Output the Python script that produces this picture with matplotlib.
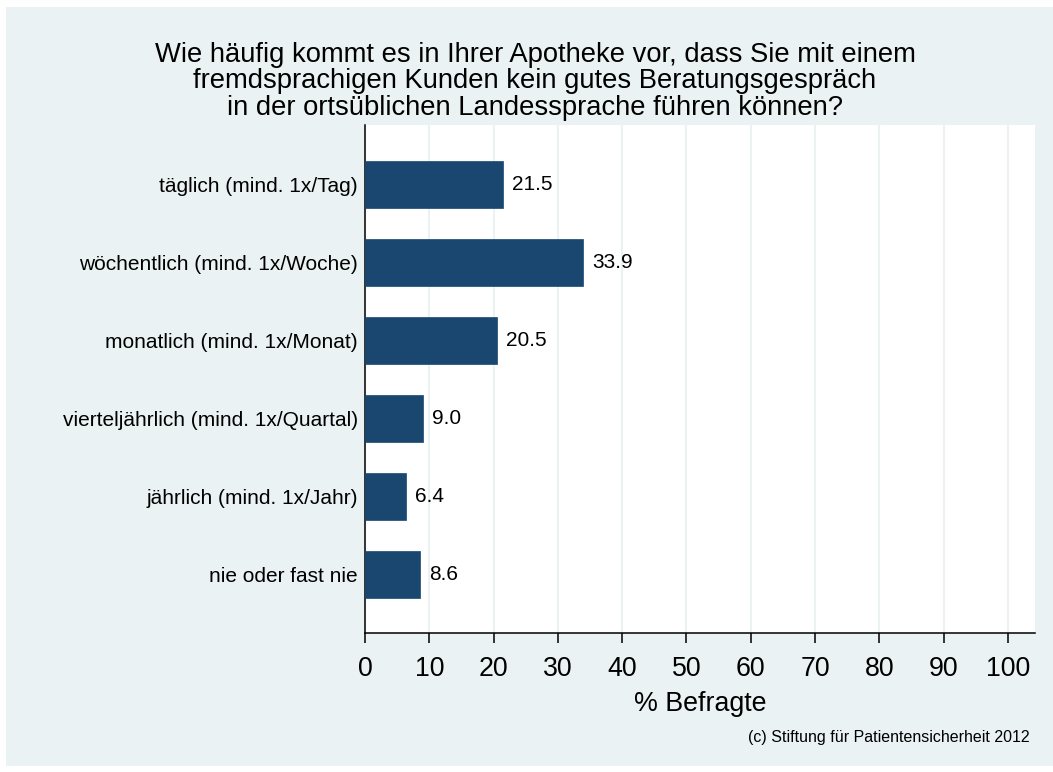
import matplotlib
matplotlib.use("Agg")
import matplotlib.pyplot as plt
from matplotlib.patches import Rectangle

categories = [
    "täglich (mind. 1x/Tag)",
    "wöchentlich (mind. 1x/Woche)",
    "monatlich (mind. 1x/Monat)",
    "vierteljährlich (mind. 1x/Quartal)",
    "jährlich (mind. 1x/Jahr)",
    "nie oder fast nie",
]
values = [21.5, 33.9, 20.5, 9.0, 6.4, 8.6]
xticks = [0, 10, 20, 30, 40, 50, 60, 70, 80, 90, 100]
title_lines = [
    "Wie häufig kommt es in Ihrer Apotheke vor, dass Sie mit einem",
    "fremdsprachigen Kunden kein gutes Beratungsgespräch",
    "in der ortsüblichen Landessprache führen können?",
]

plt.rcParams['font.family'] = ['Liberation Sans', 'DejaVu Sans']

W, H = 1053, 772
fig = plt.figure(figsize=(W / 100, H / 100), dpi=100)
fig.patch.set_facecolor('white')
bg = '#EAF2F3'
fig.patches.append(Rectangle((6 / W, 1 - 766 / H), (W - 6) / W, (766 - 7) / H,
                             transform=fig.transFigure, facecolor=bg,
                             edgecolor='none', zorder=-10))

ax = fig.add_axes([365 / W, 1 - 633 / H, (1035 - 365) / W, (633 - 125) / H])
ax.set_facecolor('white')

ypos = list(range(len(categories)))
ax.barh(ypos, values, height=0.6, color='#1A476F', edgecolor='#1A476F',
        linewidth=0.5, zorder=3)
for y, v in zip(ypos, values):
    ax.text(v + 1.4, y, f"{v:.1f}", va='center', ha='left', fontsize=15,
            color='black', zorder=4)

ax.set_ylim(len(categories) - 1 + 0.75, -0.763)
ax.set_xlim(0, 104.2)
ax.set_yticks(ypos)
ax.set_yticklabels(categories, fontsize=15)
ax.tick_params(axis='y', length=0, pad=5)
ax.set_xticks(xticks)
ax.set_xticklabels([str(t) for t in xticks], fontsize=19.3)
ax.tick_params(axis='x', length=7.2, width=1.1, pad=9, direction='out')
ax.grid(axis='x', color=bg, linewidth=1.5, zorder=0)
ax.set_axisbelow(True)
for s in ['top', 'right']:
    ax.spines[s].set_visible(False)
for s in ['left', 'bottom']:
    ax.spines[s].set_linewidth(1.1)
    ax.spines[s].set_color('black')

ax.set_xlabel("% Befragte", fontsize=19.3, labelpad=7)

for line, yb in zip(title_lines, [62, 88, 115]):
    fig.text(535 / W, 1 - yb / H, line, ha='center', va='baseline', fontsize=19.7)

fig.text(1030 / W, 1 - 742 / H, "(c) Stiftung für Patientensicherheit 2012",
         ha='right', va='baseline', fontsize=11.5)

fig.savefig("out.png", dpi=100, facecolor=fig.get_facecolor())
